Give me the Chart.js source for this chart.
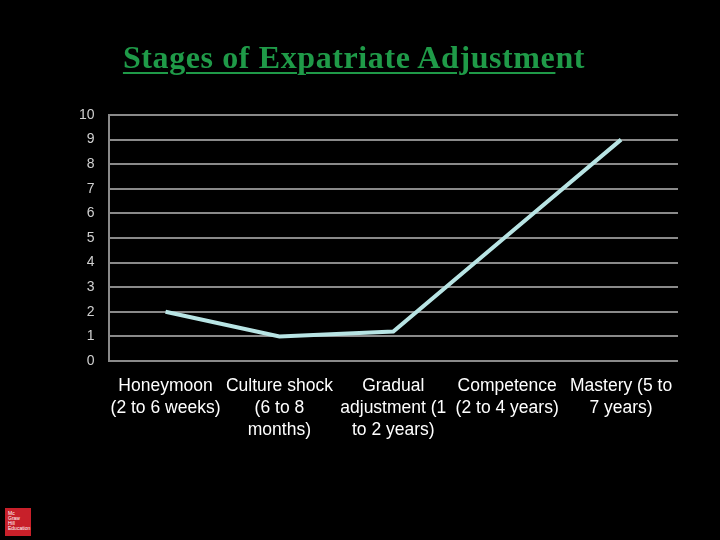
<!DOCTYPE html>
<html>
<head>
<meta charset="utf-8">
<script src="https://cdn.jsdelivr.net/npm/chart.js@4"></script>
<style>
  html, body { margin: 0; padding: 0; background: #000; }
  #wrap { position: relative; width: 720px; height: 540px; }
  #title {
    position: absolute; left: 0; top: 39px; width: 708px; text-align: center;
    font-family: "Liberation Serif", serif; font-weight: bold; font-size: 32px;
    color: #1f9a48; letter-spacing: 0.6px;
  }
  #title u { text-decoration-thickness: 2px; text-underline-offset: 4px; }
  #logo {
    position: absolute; left: 5px; top: 508px; width: 26px; height: 28px;
    background: #c8202a; color: #fff; font-family: "Liberation Sans", sans-serif;
    font-size: 5px; line-height: 5px; padding: 3px 0 0 3px; box-sizing: border-box;
  }
</style>
</head>
<body>
<div id="wrap">
  <canvas id="grafico" width="720" height="540"></canvas>
  <div id="title"><u>Stages of Expatriate Adjustme</u>nt</div>
  <div id="logo">Mc<br>Graw<br>Hill<br>Education</div>
</div>
<script>
// dados do grafico
const estagios = [
  ["Honeymoon", "(2 to 6 weeks)"],
  ["Culture shock", "(6 to 8", "months)"],
  ["Gradual", "adjustment (1", "to 2 years)"],
  ["Competence", "(2 to 4 years)"],
  ["Mastery (5 to", "7 years)"]
]
const ajuste = [2, 1, 1.2, 5.1, 9]
const eixoMin = 0
const eixoMax = 10

const alvo = document.getElementById("grafico")

const config = {
  type: 'line',
  data: {
    labels: estagios,
    datasets: [{ data: ajuste, borderColor: '#b8e4e4', borderWidth: 4, pointRadius: 0, fill: false, tension: 0 }]
  },
  options: {
    responsive: false,
    animation: false,
    layout: { padding: { top: 115, right: 42, bottom: 93, left: 65 } },
    plugins: { legend: false, tooltip: { enabled: false } },
    scales: {
      x: {
        offset: true,
        grid: { display: false },
        border: { display: false },
        ticks: { color: '#fff', maxRotation: 0, autoSkip: false, padding: 6,
                 font: { family: 'Liberation Sans', size: 17.5, lineHeight: 1.257 } }
      },
      y: {
        min: eixoMin, max: eixoMax,
        grid: { color: '#8a8a8a', lineWidth: 2, drawTicks: false },
        border: { display: true, color: '#8a8a8a', width: 2 },
        ticks: { stepSize: 1, color: '#d0d0d0', padding: 14,
                 font: { family: 'Liberation Sans', size: 14 } }
      }
    }
  }
}

new Chart(alvo, config)
</script>
</body>
</html>
